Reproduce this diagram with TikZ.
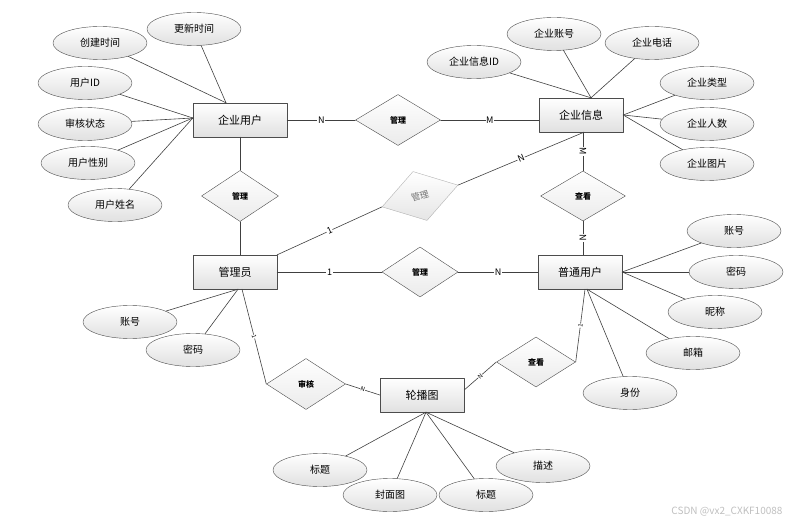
\documentclass[tikz,border=0pt]{standalone}
\usepackage{fontspec}
\setmainfont{Noto Sans CJK SC}
\usetikzlibrary{shapes.geometric,shadows}
\begin{document}
\begin{tikzpicture}[line cap=round,line join=round,>=stealth,x=1.0pt,y=-1.0pt,
		entity/.style={draw=black!70,rectangle,minimum width=84pt,minimum height=34pt,top color=white,bottom color=black!12,font=\fontsize{11}{11}\selectfont,drop shadow={shadow xshift=1.2pt,shadow yshift=-1.2pt,opacity=0.35}},
		attr/.style={draw=black!70,ellipse,minimum width=94pt,minimum height=33pt,top color=white,bottom color=black!12,font=\fontsize{10}{10}\selectfont},
		rel/.style={draw=black!70,diamond,aspect=1.6,inner sep=0pt,minimum width=79pt,minimum height=51pt,top color=white,bottom color=black!8,font=\bfseries\fontsize{8}{8}\selectfont},
		link/.style={draw=black!75,line width=0.6pt},
		card/.style={midway,fill=white,inner sep=0.6pt,font=\fontsize{9}{9}\selectfont},
		tinycard/.style={midway,sloped,fill=white,inner sep=0.3pt,font=\fontsize{6}{6}\selectfont}]
	\useasboundingbox (0,0) rectangle (794,526);
	% entities
	\node[entity,minimum width=94pt] (qyyh) at (240,120) {企业用户};
	\node[entity] (qyxx) at (581,115) {企业信息};
	\node[entity] (gly) at (235,272) {管理员};
	\node[entity] (ptyh) at (580,272) {普通用户};
	\node[entity] (lbt) at (422,395) {轮播图};
	% relations
	\node[rel,minimum width=85pt] (gl1) at (398,120) {管理};
	\node[rel,minimum width=77pt] (gl2) at (240,196) {管理};
	\node[rel,draw=black!30,top color=white,bottom color=black!10,font=\fontsize{9}{9}\selectfont,rotate=16] (gl3) at (420,196) {\textcolor{black!55}{管理}};
	\node[rel,minimum width=76pt,minimum height=50pt] (gl4) at (420,272) {管理};
	\node[rel,minimum width=85pt,minimum height=50pt] (ck1) at (583,196) {查看};
	\node[rel,minimum height=50pt] (ck2) at (536,362) {查看};
	\node[rel] (sh) at (306,384) {审核};
	% attributes of 企业用户
	\node[attr] (gxsj) at (194,29) {更新时间};
	\node[attr] (cjsj) at (100,43) {创建时间};
	\node[attr] (yhid) at (85,83) {用户ID};
	\node[attr] (shzt) at (85,124) {审核状态};
	\node[attr] (yhxb) at (88,163) {用户性别};
	\node[attr] (yhxm) at (115,205) {用户姓名};
	% attributes of 企业信息
	\node[attr] (xxid) at (474,62) {企业信息ID};
	\node[attr] (qyzh) at (554,34) {企业账号};
	\node[attr] (qydh) at (652,43) {企业电话};
	\node[attr] (qylx) at (707,83) {企业类型};
	\node[attr] (qyrs) at (707,124) {企业人数};
	\node[attr] (qytp) at (707,164) {企业图片};
	% attributes of 普通用户
	\node[attr] (pzh) at (734,231) {账号};
	\node[attr] (pmm) at (736,272) {密码};
	\node[attr] (pnc) at (715,312) {昵称};
	\node[attr] (pyx) at (693,353) {邮箱};
	\node[attr] (psf) at (630,393) {身份};
	% attributes of 管理员
	\node[attr] (gzh) at (130,322) {账号};
	\node[attr] (gmm) at (193,350) {密码};
	% attributes of 轮播图
	\node[attr] (lbt1) at (320,470) {标题};
	\node[attr] (lfmt) at (390,495) {封面图};
	\node[attr] (lbt2) at (486,495) {标题};
	\node[attr] (lms) at (543,466) {描述};
	% attribute links
	\coordinate (qyyhT) at ([xshift=-14pt]qyyh.north);
	\coordinate (qyyhL) at ([yshift=2pt]qyyh.west);
	\coordinate (qyxxT) at ([xshift=10pt]qyxx.north);
	\coordinate (ptyhB) at ([xshift=7pt]ptyh.south);
	\coordinate (glyB) at ([xshift=3pt]gly.south);
	\coordinate (lbtB) at ([xshift=4pt]lbt.south);
	\foreach \a in {gxsj,cjsj} \draw[link] (\a) -- (qyyhT);
	\foreach \a in {yhid,shzt,yhxb,yhxm} \draw[link] (\a) -- (qyyhL);
	\foreach \a in {xxid,qyzh,qydh} \draw[link] (\a) -- (qyxxT);
	\foreach \a in {qylx,qyrs,qytp} \draw[link] (\a) -- (qyxx.east);
	\foreach \a in {pzh,pmm,pnc} \draw[link] (\a) -- (ptyh.east);
	\foreach \a in {pyx,psf} \draw[link] (\a) -- (ptyhB);
	\foreach \a in {gzh,gmm} \draw[link] (\a) -- (glyB);
	\foreach \a in {lbt1,lfmt,lbt2,lms} \draw[link] (\a) -- (lbtB);
	% relation links
	\draw[link] (qyyh.east) -- node[card] {N} (gl1.west);
	\draw[link] (gl1.east) -- node[card] {M} (gl1.east -| qyxx.west);
	\draw[link] (gl2.north) -- (gl2.north |- qyyh.south);
	\draw[link] (gl2.south) -- (gl2.south |- gly.north);
	\draw[link] (gly.north east) -- node[card,sloped] {1} (gl3.west);
	\draw[link] (gl3.east) -- node[card,sloped] {N} ([xshift=3pt]qyxx.south);
	\draw[link] (gly.east) -- node[card] {1} (gl4.west);
	\draw[link] (gl4.east) -- node[card] {N} (ptyh.west);
	\draw[link] (ck1.north |- qyxx.south) -- node[card,sloped] {M} (ck1.north);
	\draw[link] (ck1.south) -- node[card,sloped] {N} (ck1.south |- ptyh.north);
	\draw[link] ([xshift=5pt]ptyh.south) -- node[tinycard] {1} (ck2.east);
	\draw[link] (ck2.west) -- node[tinycard] {N} ([yshift=5pt]lbt.east);
	\draw[link] ([xshift=7pt]gly.south) -- node[tinycard] {1} (sh.west);
	\draw[link] (sh.east) -- node[tinycard] {N} (lbt.west);
	% watermark
	\node[text=black!25,font=\fontsize{10}{10}\selectfont,anchor=east] (wm) at (786,512) {CSDN @vx2\_CXKF10088};
\end{tikzpicture}
\end{document}
